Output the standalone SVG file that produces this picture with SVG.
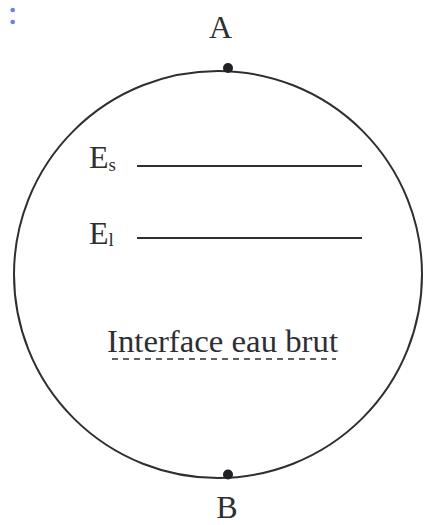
<svg xmlns="http://www.w3.org/2000/svg" width="424" height="525" viewBox="0 0 424 525">
<style>
.t{font-family:"Liberation Serif","Times New Roman",serif;fill:#2e2e33;font-size:32px}
.sub{font-size:19px}
.ln{stroke:#2e2e33;stroke-width:2;fill:none}
.dot{fill:#222226}
</style>
<rect width="424" height="525" fill="#ffffff"/>
<g id="handle">
<circle cx="12.7" cy="10" r="2.3" fill="#6b7ff0"/>
<circle cx="12.7" cy="22" r="2.3" fill="#6b7ff0"/>
</g>
<g id="sphere">
<ellipse class="ln" cx="218" cy="274.5" rx="204" ry="203.5"/>
</g>
<g id="A">
<circle class="dot" cx="228" cy="68" r="5"/>
<text class="t" x="220.5" y="38" text-anchor="middle">A</text>
</g>
<g id="B">
<circle class="dot" cx="228" cy="474.5" r="5"/>
<text class="t" x="227" y="518" text-anchor="middle">B</text>
</g>
<g id="Es">
<text class="t" x="89" y="168">E<tspan class="sub" dy="3">s</tspan></text>
<line class="ln" x1="137" y1="166" x2="362" y2="166"/>
</g>
<g id="El">
<text class="t" x="89" y="244">E<tspan class="sub" dy="2">l</tspan></text>
<line class="ln" x1="137" y1="238" x2="362" y2="238"/>
</g>
<g id="interface">
<text class="t" x="107" y="352" textLength="231" lengthAdjust="spacingAndGlyphs">Interface eau brut</text>
<line x1="112" y1="359" x2="336" y2="359" stroke="#2e2e33" stroke-width="1.5" stroke-dasharray="6 5"/>
</g>
</svg>
